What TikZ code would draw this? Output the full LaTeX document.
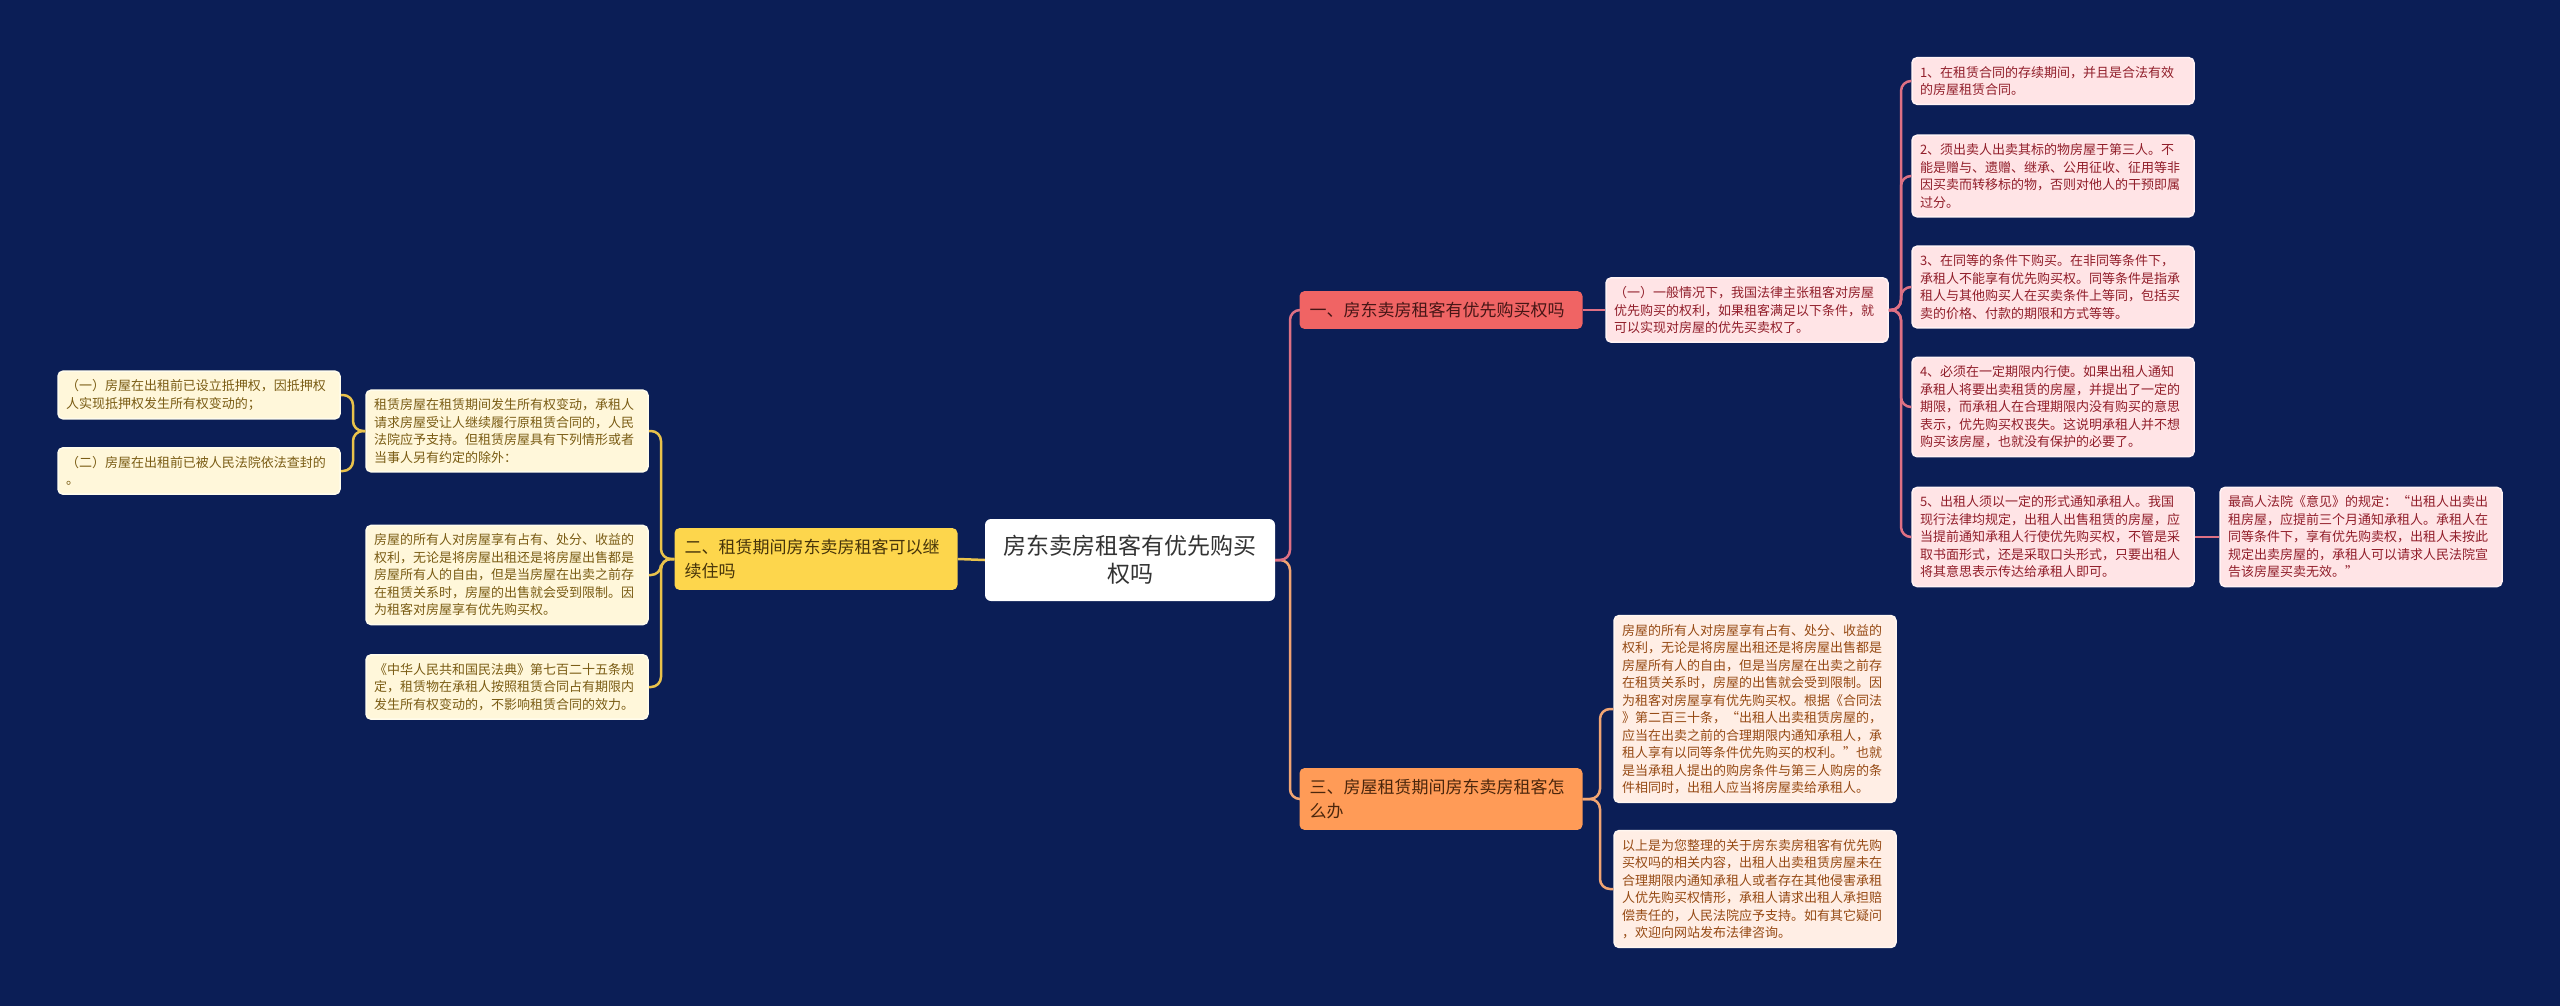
\documentclass[tikz,border=0pt]{standalone}
\usepackage{fontspec}
\setmainfont{Noto Sans CJK SC}
\definecolor{bgc}{RGB}{11,30,86}
\definecolor{lineR}{RGB}{222,112,132}
\definecolor{lineY}{RGB}{233,194,75}
\definecolor{lineO}{RGB}{242,165,115}
\definecolor{brR}{RGB}{240,100,100}
\definecolor{brY}{RGB}{253,214,76}
\definecolor{brO}{RGB}{255,155,87}
\definecolor{lfR}{RGB}{255,228,230}
\definecolor{lfY}{RGB}{255,247,218}
\definecolor{lfO}{RGB}{255,238,229}
\definecolor{bdR}{RGB}{255,242,244}
\definecolor{bdY}{RGB}{255,252,236}
\definecolor{bdO}{RGB}{255,246,240}
\definecolor{txR}{RGB}{145,30,42}
\definecolor{txY}{RGB}{122,92,20}
\definecolor{txO}{RGB}{150,74,20}
\definecolor{txBR}{RGB}{70,22,22}
\definecolor{txBY}{RGB}{70,52,10}
\definecolor{txBO}{RGB}{75,38,12}
\begin{document}
\begin{tikzpicture}[x=1pt,y=-1pt,
  leaf/.style={rounded corners=5pt, line width=1.5pt, inner xsep=8pt, inner ysep=8.5pt, align=left, text width=266pt, font=\fontsize{13}{17.5}\selectfont},
  leafR/.style={leaf, fill=lfR, draw=bdR, text=txR},
  leafY/.style={leaf, fill=lfY, draw=bdY, text=txY},
  leafO/.style={leaf, fill=lfO, draw=bdO, text=txO},
  branch/.style={rounded corners=5pt, inner xsep=10pt, inner ysep=11pt, align=left, text width=263pt, font=\fontsize{17}{24}\selectfont},
  rootbox/.style={rounded corners=6pt, fill=white, text=black!80, align=center, minimum width=290pt, minimum height=82pt, inner sep=0pt, font=\fontsize{23}{28}\selectfont},
  conn/.style={line width=2.5pt, rounded corners=10pt}
]
\fill[bgc] (0,0) rectangle (2560,1006);
\useasboundingbox (0,0) rectangle (2560,1006);

% root
\node[rootbox] (C) at (1130,560) {房东卖房租客有优先购买\\权吗};

% branches
\node[branch, fill=brR, text=txBR] (B1) at (1441,310) {一、房东卖房租客有优先购买权吗};
\node[branch, fill=brY, text=txBY] (B2) at (816,559) {二、租赁期间房东卖房租客可以继\\续住吗};
\node[branch, fill=brO, text=txBO] (B3) at (1441,799) {三、房屋租赁期间房东卖房租客怎\\么办};

% branch 1 subtree
\node[leafR] (R1) at (1747,310) {（一）一般情况下，我国法律主张租客对房屋\\优先购买的权利，如果租客满足以下条件，就\\可以实现对房屋的优先买卖权了。};
\node[leafR] (A1) at (2053,81) {1、在租赁合同的存续期间，并且是合法有效\\的房屋租赁合同。};
\node[leafR] (A2) at (2053,176) {2、须出卖人出卖其标的物房屋于第三人。不\\能是赠与、遗赠、继承、公用征收、征用等非\\因买卖而转移标的物，否则对他人的干预即属\\过分。};
\node[leafR] (A3) at (2053,287) {3、在同等的条件下购买。在非同等条件下，\\承租人不能享有优先购买权。同等条件是指承\\租人与其他购买人在买卖条件上等同，包括买\\卖的价格、付款的期限和方式等等。};
\node[leafR] (A4) at (2053,407) {4、必须在一定期限内行使。如果出租人通知\\承租人将要出卖租赁的房屋，并提出了一定的\\期限，而承租人在合理期限内没有购买的意思\\表示，优先购买权丧失。这说明承租人并不想\\购买该房屋，也就没有保护的必要了。};
\node[leafR] (A5) at (2053,537) {5、出租人须以一定的形式通知承租人。我国\\现行法律均规定，出租人出售租赁的房屋，应\\当提前通知承租人行使优先购买权，不管是采\\取书面形式，还是采取口头形式，只要出租人\\将其意思表示传达给承租人即可。};
\node[leafR] (A6) at (2361,537) {最高人法院《意见》的规定：“出租人出卖出\\租房屋，应提前三个月通知承租人。承租人在\\同等条件下，享有优先购卖权，出租人未按此\\规定出卖房屋的，承租人可以请求人民法院宣\\告该房屋买卖无效。”};

% branch 2 subtree
\node[leafY] (L1) at (507,431) {租赁房屋在租赁期间发生所有权变动，承租人\\请求房屋受让人继续履行原租赁合同的，人民\\法院应予支持。但租赁房屋具有下列情形或者\\当事人另有约定的除外：};
\node[leafY] (L2) at (507,575) {房屋的所有人对房屋享有占有、处分、收益的\\权利，无论是将房屋出租还是将房屋出售都是\\房屋所有人的自由，但是当房屋在出卖之前存\\在租赁关系时，房屋的出售就会受到限制。因\\为租客对房屋享有优先购买权。};
\node[leafY] (L3) at (507,687) {《中华人民共和国民法典》第七百二十五条规\\定，租赁物在承租人按照租赁合同占有期限内\\发生所有权变动的，不影响租赁合同的效力。};
\node[leafY] (LL1) at (199,395) {（一）房屋在出租前已设立抵押权，因抵押权\\人实现抵押权发生所有权变动的；};
\node[leafY] (LL2) at (199,471) {（二）房屋在出租前已被人民法院依法查封的\\。};

% branch 3 subtree
\node[leafO] (D1) at (1755,709) {房屋的所有人对房屋享有占有、处分、收益的\\权利，无论是将房屋出租还是将房屋出售都是\\房屋所有人的自由，但是当房屋在出卖之前存\\在租赁关系时，房屋的出售就会受到限制。因\\为租客对房屋享有优先购买权。根据《合同法\\》第二百三十条，“出租人出卖租赁房屋的，\\应当在出卖之前的合理期限内通知承租人，承\\租人享有以同等条件优先购买的权利。”也就\\是当承租人提出的购房条件与第三人购房的条\\件相同时，出租人应当将房屋卖给承租人。};
\node[leafO] (D2) at (1755,889) {以上是为您整理的关于房东卖房租客有优先购\\买权吗的相关内容，出租人出卖租赁房屋未在\\合理期限内通知承租人或者存在其他侵害承租\\人优先购买权情形，承租人请求出租人承担赔\\偿责任的，人民法院应予支持。如有其它疑问\\，欢迎向网站发布法律咨询。};

% spine coordinates
\coordinate (sC) at (1290,560);
\coordinate (sA) at (1901,310);
\coordinate (sD) at (1600,799);
\coordinate (sL) at (661,559);
\coordinate (sLL) at (353,431);

% connectors
\draw[conn, lineY] (C.west) -- (B2.east);
\draw[conn, lineO] (C.east) -- (C.east -| sC) -- (sC |- B3.west) -- (B3.west);
\draw[conn, lineR] (C.east) -- (C.east -| sC) -- (sC |- B1.west) -- (B1.west);
\draw[conn, lineR] (B1.east) -- (R1.west);
\foreach \n in {A1,A2,A3,A4,A5}{
  \draw[conn, lineR] (R1.east) -- (R1.east -| sA) -- (sA |- \n.west) -- (\n.west);
}
\draw[conn, lineR] (A5.east) -- (A6.west);
\foreach \n in {D1,D2}{
  \draw[conn, lineO] (B3.east) -- (B3.east -| sD) -- (sD |- \n.west) -- (\n.west);
}
\foreach \n in {L1,L2,L3}{
  \draw[conn, lineY] (B2.west) -- (B2.west -| sL) -- (sL |- \n.east) -- (\n.east);
}
\foreach \n in {LL1,LL2}{
  \draw[conn, lineY] (L1.west) -- (L1.west -| sLL) -- (sLL |- \n.east) -- (\n.east);
}
\end{tikzpicture}
\end{document}
